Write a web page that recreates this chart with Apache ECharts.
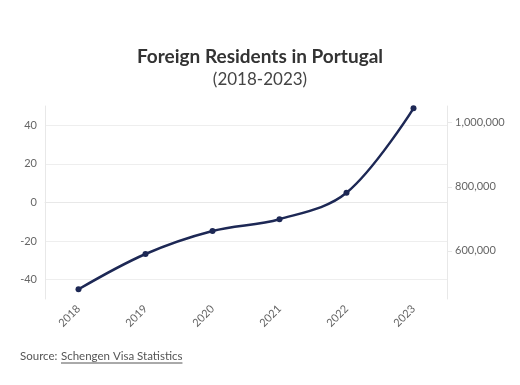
<!DOCTYPE html>
<html><head><meta charset="utf-8">
<script src="https://cdn.jsdelivr.net/npm/echarts@6/dist/echarts.min.js"></script>
<style>html,body{margin:0;padding:0;background:#fff}#c{width:520px;height:385px}</style>
</head><body><div id="c"></div>
<script>
const years = ['2018','2019','2020','2021','2022','2023'];
const residents = [480300, 590348, 662095, 698887, 781247, 1044606];
const leftTicks = [-40, -20, 0, 20, 40];
const rightTicks = [600000, 800000, 1000000];

const chart = echarts.init(document.getElementById('c'));
const font = 'Lato, "Noto Sans", sans-serif';
const grey = '#e8e8e8';
const linkText = 'Schengen Visa Statistics';
const srcSize = 11.5;
const cv = document.createElement('canvas').getContext('2d');
cv.font = srcSize + 'px ' + font;
const linkW = cv.measureText(linkText).width;
chart.setOption({
  animation: false,
  textStyle: {fontFamily: font},
  title: {
    text: 'Foreign Residents in Portugal',
    subtext: '(2018-2023)',
    left: 'center', top: 42, itemGap: 5,
    textStyle: {fontFamily: font, fontSize: 19, fontWeight: 'bold', color: '#333'},
    subtextStyle: {fontFamily: font, fontSize: 17, color: '#444'}
  },
  grid: {left: 45, right: 73, top: 106, bottom: 86, containLabel: false},
  xAxis: {
    type: 'category', data: years, boundaryGap: true,
    axisLine: {lineStyle: {color: grey}},
    axisTick: {alignWithLabel: true, length: 5, lineStyle: {color: grey}},
    axisLabel: {rotate: 45, color: '#666', fontSize: 11, margin: 8}
  },
  yAxis: [{
    type: 'value', min: -50, max: 50, position: 'left',
    axisLine: {show: true, lineStyle: {color: grey}},
    axisTick: {show: false, customValues: leftTicks},
    axisLabel: {color: '#666', fontSize: 11, margin: 8, customValues: leftTicks},
    splitLine: {show: true, lineStyle: {color: '#eeeeee'}}
  }, {
    type: 'value', min: 450000, max: 1052000, position: 'right',
    axisLine: {show: true, lineStyle: {color: grey}},
    axisTick: {show: true, length: 5, lineStyle: {color: grey}, customValues: rightTicks},
    axisLabel: {color: '#666', fontSize: 11, margin: 8, customValues: rightTicks,
      formatter: v => v.toLocaleString('en-US')},
    splitLine: {show: false}
  }],
  series: [{
    type: 'line', yAxisIndex: 1, data: residents, smooth: 0.35,
    symbol: 'circle', symbolSize: 6,
    lineStyle: {color: '#1d2855', width: 2.5},
    itemStyle: {color: '#1d2855'}
  }],
  graphic: [
    {type: 'text', left: 20, top: 350, style: {text: 'Source:', fill: '#555', fontSize: srcSize, fontFamily: font}},
    {type: 'text', left: 61, top: 350, style: {text: linkText, fill: '#555', fontSize: srcSize, fontFamily: font}},
    {type: 'line', shape: {x1: 61, y1: 363, x2: 61 + linkW, y2: 363}, style: {stroke: '#555', lineWidth: 1}}
  ]
});
</script></body></html>
